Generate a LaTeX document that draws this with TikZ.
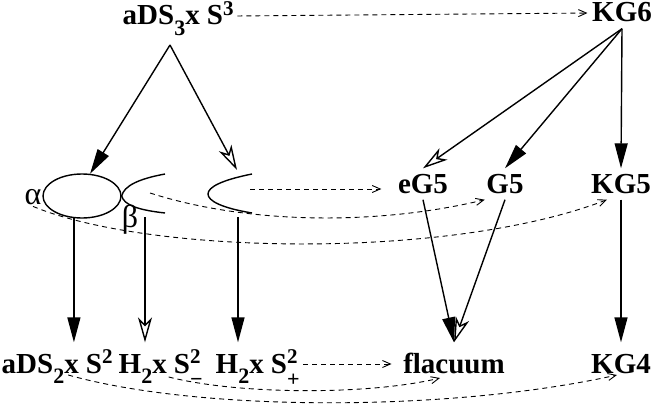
\documentclass[tikz,border=0pt]{standalone}
\usepackage{fontspec}
\setmainfont{Liberation Serif}
\usetikzlibrary{shapes.geometric,arrows.meta}
\newcommand{\lowtxt}[1]{\raisebox{-0.36em}{\fontsize{22}{22}\selectfont #1}}
\newcommand{\hightxt}[1]{\raisebox{0.32em}{\fontsize{21}{21}\selectfont #1}}
\newcommand{\bothtxt}[2]{\rlap{\hightxt{#1}}\raisebox{-0.45em}{\fontsize{22}{22}\selectfont #2}}

\begin{document}
\begin{tikzpicture}[x=1pt, y=-1pt, line width=1.4pt]
	\tikzstyle{term} = [font=\fontsize{29}{31}\selectfont\bfseries, inner xsep=1pt, inner ysep=6pt, text height=18pt, text depth=0pt]
	\tikzstyle{low} = [term, inner ysep=12pt]
	\tikzstyle{greek} = [font=\fontsize{32}{34}\selectfont, inner sep=1pt]
	\tikzstyle{full} = [-{Triangle[length=25pt,width=13pt]}]
	\tikzstyle{hollow} = [-{Stealth[open,length=25pt,width=14pt,inset=7pt]}]
	\tikzstyle{weak} = [line width=0.9pt, dash pattern=on 5pt off 4pt, -{Straight Barb[length=8pt,width=7pt]}]
	\useasboundingbox (0,0) rectangle (654,404);
	\node (ads3)[term, anchor=base west] at (121,25) {aDS\lowtxt{3}x S\hightxt{3}};
	\node (kg6)[term, anchor=base] at (622,22) {KG6};
	\node (eg5)[term, anchor=base] at (423,193) {eG5};
	\node (g5)[term, anchor=base] at (505,193) {G5};
	\node (kg5)[term, anchor=base] at (621,193) {KG5};
	\node (ads2)[low, anchor=base west] at (0,373) {aDS\lowtxt{2}x S\hightxt{2}};
	\node (hminus)[low, anchor=base west] at (117,373) {H\lowtxt{2}x S\bothtxt{2}{−}};
	\node (hplus)[low, anchor=base west] at (214,373) {H\lowtxt{2}x S\bothtxt{2}{+}};
	\node (flac)[low, anchor=base] at (454,373) {flacuum};
	\node (kg4)[low, anchor=base] at (621,373) {KG4};
	\node (loop)[draw, ellipse, minimum width=78pt, minimum height=44pt, inner sep=0pt] at (82,196) {};
	\node (alpha)[greek] at (33,197) {α};
	\node (beta)[greek] at (130,220) {β};
	% the two open branches
	\draw (165,174) .. controls (138,179) and (124,186) .. (loop.east) .. controls (124,205) and (138,210) .. (165,213);
	\draw (252,174) .. controls (222,180) and (208,187) .. (208,194) .. controls (208,201) and (222,208) .. (252,213);
	\coordinate (apex) at (170,45);
	\coordinate (rightin) at (237,170);
	\coordinate (cusp) at (150,193);
	\coordinate (mouth) at (250,189);
	\coordinate (leftfoot) at (145,217);
	\coordinate (rightfoot) at (238,217);
	% solid arrows
	\draw [full] (apex) -- (loop.70);
	\draw [hollow] (apex) -- (rightin);
	\draw [full] (loop.250) -- (loop.250 |- ads2.north);
	\draw [hollow] (leftfoot) -- (leftfoot |- hminus.north);
	\draw [full] (rightfoot) -- (rightfoot |- hplus.north);
	\draw [hollow] (kg6.south) -- (eg5.north);
	\draw [full] (kg6.south) -- (g5.north);
	\draw [full] (kg6.south) -- (kg5.north);
	\draw [full] (eg5.south) -- (flac.north);
	\draw [hollow] (g5.south) -- (flac.north);
	\draw [full] (kg5.south) -- (kg4.north);
	% dashed arrows
	\draw [weak, shorten <=2pt, shorten >=3pt] (ads3.east) -- (kg6.west);
	\draw [weak, shorten >=15pt] (mouth) -- (mouth -| eg5.west);
	\draw [weak] (cusp) .. controls (250,225) and (380,225) .. (g5.south west);
	\draw [weak] (alpha.south) .. controls (150,255) and (450,260) .. ([xshift=-14pt]kg5.south);
	\draw [weak, shorten <=2pt, shorten >=10pt] (hplus.east) -- (flac.west);
	\draw [weak] ([xshift=8pt,yshift=-4pt]hminus.base) .. controls (240,395) and (370,395) .. ([xshift=-14pt,yshift=-5pt]flac.base);
	\draw [weak] ([xshift=11pt,yshift=-2pt]ads2.base) .. controls (200,412) and (450,412) .. ([xshift=-4pt,yshift=-2pt]kg4.base);
\end{tikzpicture}
\end{document}
